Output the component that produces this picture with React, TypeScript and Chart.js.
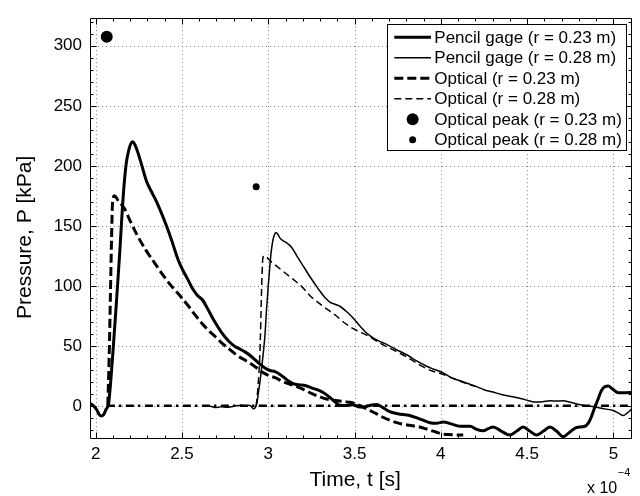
import React, { useEffect, useRef } from "react";
import { Chart, registerables } from "chart.js";

Chart.register(...registerables);

// Time values are in units of 1e-4 s, pressures in kPa.
const pencil023T = [1.967, 1.985, 2.005, 2.02, 2.032, 2.045, 2.06, 2.075, 2.088, 2.1, 2.12, 2.139, 2.154, 2.165, 2.178, 2.19, 2.202, 2.214, 2.226, 2.24, 2.266, 2.295, 2.325, 2.353, 2.38, 2.41, 2.44, 2.477, 2.505, 2.535, 2.56, 2.59, 2.62, 2.652, 2.69, 2.73, 2.77, 2.807, 2.84, 2.865, 2.895, 2.923, 2.95, 2.981, 3.01, 3.039, 3.07, 3.097, 3.125, 3.155, 3.185, 3.213, 3.25, 3.3, 3.33, 3.357, 3.39, 3.415, 3.45, 3.49, 3.53, 3.57, 3.6, 3.628, 3.66, 3.7, 3.75, 3.82, 3.88, 3.937, 3.975, 4.014, 4.06, 4.11, 4.17, 4.207, 4.245, 4.275, 4.303, 4.35, 4.4, 4.44, 4.477, 4.515, 4.555, 4.595, 4.632, 4.67, 4.709, 4.75, 4.787, 4.835, 4.864, 4.893, 4.915, 4.93, 4.95, 4.97, 4.995, 5.027, 5.07, 5.11];
const pencil023P = [2, 0.5, -3, -7, -8.5, -7.5, -3, 2, 22, 45, 86, 127, 163, 185, 203, 212, 218, 220, 218, 213, 201, 187, 178, 170, 161, 150, 138, 122, 113, 105, 98, 92, 88, 80, 70, 61, 54, 49.5, 47, 45, 42, 38.5, 35, 31.5, 29.5, 28.5, 26, 23, 20, 18, 17.5, 17, 15, 12.5, 10, 7, 3, 0.5, 0.3, 1, -1, -0.5, 0.8, 1.1, -1, -4.5, -6.5, -8, -11, -14, -14.5, -13.4, -15, -17, -17, -19.5, -20.8, -19, -17.5, -21, -24.3, -21, -17.5, -21, -24.3, -21, -17.5, -21, -25.7, -21.5, -18, -17, -12, -1, 7, 12.5, 16, 16.6, 14, 11, 11, 11.1];

const pencil028T = [2.643, 2.67, 2.7, 2.73, 2.76, 2.8, 2.84, 2.87, 2.89, 2.905, 2.913, 2.925, 2.935, 2.942, 2.952, 2.962, 2.972, 2.981, 2.99, 3.0, 3.008, 3.016, 3.027, 3.037, 3.045, 3.055, 3.07, 3.087, 3.11, 3.136, 3.17, 3.203, 3.24, 3.29, 3.33, 3.357, 3.39, 3.415, 3.45, 3.493, 3.531, 3.56, 3.589, 3.62, 3.65, 3.686, 3.74, 3.802, 3.86, 3.918, 3.96, 4.014, 4.06, 4.11, 4.169, 4.207, 4.25, 4.303, 4.35, 4.4, 4.45, 4.497, 4.53, 4.555, 4.59, 4.632, 4.67, 4.709, 4.75, 4.787, 4.84, 4.903, 4.95, 4.999, 5.03, 5.057, 5.08, 5.11];
const pencil028P = [0, -0.5, -1.3, -0.8, -1.2, -0.3, 0.6, 0.2, 0.5, -1, -2.5, -1.5, 3, 10, 20, 32, 45, 59, 80, 100, 114, 127, 138, 143, 144.5, 143, 139.5, 137.5, 135.5, 132, 124, 116.4, 108, 97.5, 90, 86.5, 84.5, 83, 79, 73, 66.5, 62, 58.5, 55.5, 53.5, 51.3, 47, 42.6, 37.5, 33, 30.5, 27.5, 23.5, 21, 18, 16, 13.5, 11.5, 9.5, 8, 6.5, 4.8, 3.5, 3.2, 3.5, 4.3, 4, 4.3, 3, 1.6, 0.2, -1.1, -2.5, -3.9, -6, -8, -6, -2];

const optical023T = [2.07, 2.078, 2.085, 2.092, 2.098, 2.11, 2.13, 2.168, 2.2, 2.245, 2.29, 2.342, 2.39, 2.438, 2.49, 2.535, 2.575, 2.62, 2.66, 2.691, 2.73, 2.768, 2.82, 2.884, 2.93, 2.962, 3.0, 3.039, 3.09, 3.155, 3.2, 3.26, 3.3, 3.338, 3.39, 3.44, 3.473, 3.51, 3.55, 3.59, 3.628, 3.665, 3.705, 3.745, 3.782, 3.82, 3.86, 3.9, 3.937, 3.975, 4.014, 4.06, 4.11, 4.13];
const optical023P = [0, 40, 90, 140, 170, 175, 171, 164, 154, 141, 130, 119, 109, 100, 91.5, 83.6, 76, 68, 62, 58, 52.5, 48, 42, 36.5, 32, 28.5, 25.5, 23.5, 20, 16.6, 14, 9.8, 7.5, 5.7, 4.5, 3.5, 3, 1.5, -1.1, -4, -6.6, -9.5, -12, -14, -15.3, -16.2, -17, -18.5, -20.2, -22, -23.5, -24, -24.3, -24.3];

const optical028T = [2.93, 2.94, 2.952, 2.962, 2.968, 2.975, 2.99, 3.01, 3.049, 3.1, 3.145, 3.2, 3.242, 3.29, 3.338, 3.39, 3.435, 3.49, 3.54, 3.589, 3.65, 3.724, 3.8, 3.879, 3.95, 4.0, 4.05, 4.11, 4.16, 4.2];
const optical028P = [0, 15, 45, 100, 122, 125, 124, 121, 116.4, 110.5, 105.4, 98.5, 91.8, 86, 80.8, 75.5, 69.9, 64.5, 61, 57.5, 52, 46.7, 41, 34, 29, 27, 24, 20.7, 18, 16.5];

const peak023T = [2.064];
const peak023P = [307.5];
const peak028T = [2.93];
const peak028P = [182.5];

const zeroT = [2.065, 5.11];
const zeroP = [0, 0];

const X_TICKS = [2, 2.5, 3, 3.5, 4, 4.5, 5];
const Y_TICKS = [0, 50, 100, 150, 200, 250, 300];
const X_MINOR_STEP = 0.1;
const Y_MINOR_STEP = 10;
const X_RANGE = [1.967, 5.108];
const Y_RANGE = [-27.6, 323];

const FONT = '"Liberation Sans", Arial, Helvetica, sans-serif';

const pts = (t: number[], p: number[]) => t.map((x, i) => ({ x, y: p[i] }));

// Dotted grid under the data, box with inward major/minor ticks on top of it.
const framePlugin = {
  id: "matlabFrame",
  beforeDatasetsDraw(chart: any) {
    const { ctx, chartArea: a, scales } = chart;
    const xs = scales.x;
    const ys = scales.y;
    ctx.save();
    ctx.strokeStyle = "#808080";
    ctx.lineWidth = 1;
    ctx.setLineDash([1, 3]);
    ctx.beginPath();
    for (const v of X_TICKS) {
      const px = Math.round(xs.getPixelForValue(v)) + 0.5;
      ctx.moveTo(px, a.top);
      ctx.lineTo(px, a.bottom);
    }
    for (const v of Y_TICKS) {
      const py = Math.round(ys.getPixelForValue(v)) + 0.5;
      ctx.moveTo(a.left, py);
      ctx.lineTo(a.right, py);
    }
    ctx.stroke();
    ctx.restore();
  },
  afterDatasetsDraw(chart: any) {
    const { ctx, chartArea: a, scales } = chart;
    const xs = scales.x;
    const ys = scales.y;
    const major = 6;
    const minor = 3;
    ctx.save();
    ctx.strokeStyle = "#000";
    ctx.lineWidth = 1;
    ctx.setLineDash([]);
    ctx.beginPath();
    const l = Math.round(a.left) + 0.5;
    const r = Math.round(a.right) - 0.5;
    const t = Math.round(a.top) + 0.5;
    const b = Math.round(a.bottom) - 0.5;
    ctx.rect(l, t, r - l, b - t);
    // x ticks (bottom and top)
    for (let v = 2; v <= X_RANGE[1] + 1e-9; v += X_MINOR_STEP) {
      const vv = Math.round(v * 10) / 10;
      if (vv < X_RANGE[0]) continue;
      const isMajor = X_TICKS.some((m) => Math.abs(m - vv) < 1e-6);
      const len = isMajor ? major : minor;
      const px = Math.round(xs.getPixelForValue(vv)) + 0.5;
      ctx.moveTo(px, b);
      ctx.lineTo(px, b - len);
      ctx.moveTo(px, t);
      ctx.lineTo(px, t + len);
    }
    // y ticks (left and right)
    for (let v = -20; v <= Y_RANGE[1]; v += Y_MINOR_STEP) {
      const isMajor = Y_TICKS.includes(v);
      const len = isMajor ? major : minor;
      const py = Math.round(ys.getPixelForValue(v)) + 0.5;
      ctx.moveTo(l, py);
      ctx.lineTo(l + len, py);
      ctx.moveTo(r, py);
      ctx.lineTo(r - len, py);
    }
    ctx.stroke();
    ctx.restore();
  },
  afterDraw(chart: any) {
    const { ctx, chartArea: a } = chart;
    // exponent of the time axis
    ctx.save();
    ctx.fillStyle = "#000";
    ctx.textBaseline = "alphabetic";
    ctx.textAlign = "left";
    ctx.font = `16px ${FONT}`;
    const base = "x 10";
    const bx = a.right - 45;
    ctx.fillText(base, bx, 493);
    const w = ctx.measureText(base).width;
    ctx.font = `11px ${FONT}`;
    ctx.fillText("\u22124", bx + w + 0.5, 476);
    ctx.restore();
  },
};

// Boxed legend in the top right corner of the plot area.
const legendPlugin = {
  id: "boxLegend",
  afterDraw(chart: any) {
    const { ctx, chartArea: a } = chart;
    const items = chart.data.datasets.filter((d: any) => d.label);
    ctx.save();
    ctx.font = `17px ${FONT}`;
    const textW = Math.max(...items.map((d: any) => ctx.measureText(d.label).width));
    const rowH = 20.5;
    const padTop = 13.3;
    const padBottom = 10.6;
    const sampleL = 7.3;
    const sampleW = 36.7;
    const gap = 3.3;
    const padR = 4.3;
    const w = Math.round(sampleL + sampleW + gap + textW + padR);
    const h = Math.round(padTop + rowH * (items.length - 1) + padBottom);
    const right = Math.round(a.right - 6);
    const left = right - w;
    const top = Math.round(a.top + 6);
    ctx.fillStyle = "#fff";
    ctx.fillRect(left, top, w, h);
    ctx.strokeStyle = "#000";
    ctx.lineWidth = 1;
    ctx.strokeRect(left + 0.5, top + 0.5, w, h);
    items.forEach((d: any, i: number) => {
      const cy = top + padTop + i * rowH;
      const x0 = left + sampleL;
      if (d.showLine) {
        ctx.setLineDash(d.borderDash || []);
        ctx.lineWidth = d.borderWidth;
        ctx.strokeStyle = d.borderColor;
        ctx.beginPath();
        ctx.moveTo(x0, cy);
        ctx.lineTo(x0 + sampleW, cy);
        ctx.stroke();
        ctx.setLineDash([]);
      } else {
        ctx.fillStyle = d.backgroundColor;
        ctx.beginPath();
        ctx.arc(x0 + sampleW / 2, cy, d.pointRadius, 0, Math.PI * 2);
        ctx.fill();
      }
      ctx.fillStyle = "#000";
      ctx.textBaseline = "middle";
      ctx.textAlign = "left";
      ctx.fillText(d.label, x0 + sampleW + gap, cy + 1);
    });
    ctx.restore();
  },
};

const lineStyle = {
  showLine: true,
  borderColor: "#000",
  backgroundColor: "#000",
  pointRadius: 0,
  cubicInterpolationMode: "monotone",
  fill: false,
};

export default function App() {
  const canvasRef = useRef<HTMLCanvasElement | null>(null);

  useEffect(() => {
    const canvas = canvasRef.current;
    if (!canvas) return;
    const chart = new Chart(canvas, {
      type: "scatter",
      data: {
        datasets: [
          { ...lineStyle, label: "Pencil gage (r = 0.23 m)", data: pts(pencil023T, pencil023P), borderWidth: 3 },
          { ...lineStyle, label: "Pencil gage (r = 0.28 m)", data: pts(pencil028T, pencil028P), borderWidth: 1.5 },
          { ...lineStyle, label: "Optical (r = 0.23 m)", data: pts(optical023T, optical023P), borderWidth: 3, borderDash: [9, 4] },
          { ...lineStyle, label: "Optical (r = 0.28 m)", data: pts(optical028T, optical028P), borderWidth: 1.5, borderDash: [7, 4] },
          { label: "Optical peak (r = 0.23 m)", data: pts(peak023T, peak023P), showLine: false, pointRadius: 6, backgroundColor: "#000", borderWidth: 0 },
          { label: "Optical peak (r = 0.28 m)", data: pts(peak028T, peak028P), showLine: false, pointRadius: 3.5, backgroundColor: "#000", borderWidth: 0 },
          { ...lineStyle, label: "", data: pts(zeroT, zeroP), borderWidth: 2.5, borderDash: [8, 4, 2.5, 4.5], cubicInterpolationMode: "default" },
        ],
      } as any,
      options: {
        animation: false,
        responsive: false,
        events: [],
        layout: { padding: { left: 0, top: 11, right: 8, bottom: 0 } },
        plugins: { legend: { display: false }, tooltip: { enabled: false } },
        scales: {
          x: {
            type: "linear",
            min: X_RANGE[0],
            max: X_RANGE[1],
            afterBuildTicks: (s: any) => {
              s.ticks = X_TICKS.map((v) => ({ value: v }));
            },
            afterFit: (s: any) => {
              s.height = 57;
            },
            grid: { display: false, drawTicks: false },
            border: { display: false },
            ticks: {
              color: "#000",
              font: { family: FONT, size: 17 },
              padding: 5,
              maxRotation: 0,
              autoSkip: false,
              callback: (v: any) => String(v),
            },
            title: {
              display: true,
              text: "Time, t [s]  ",
              color: "#000",
              font: { family: FONT, size: 21 },
              padding: { top: 0, bottom: 3 },
            },
          },
          y: {
            type: "linear",
            min: Y_RANGE[0],
            max: Y_RANGE[1],
            afterBuildTicks: (s: any) => {
              s.ticks = Y_TICKS.map((v) => ({ value: v }));
            },
            afterFit: (s: any) => {
              s.width = 90;
            },
            grid: { display: false, drawTicks: false },
            border: { display: false },
            ticks: {
              color: "#000",
              font: { family: FONT, size: 17 },
              padding: 8,
              autoSkip: false,
              callback: (v: any) => String(v),
            },
            title: {
              display: true,
              text: "Pressure, P [kPa]   ",
              color: "#000",
              font: { family: FONT, size: 21 },
              padding: { top: 13, bottom: 0 },
            },
          },
        },
      } as any,
      plugins: [framePlugin, legendPlugin],
    });
    return () => chart.destroy();
  }, []);

  return (
    <div style={{ position: "fixed", left: 0, top: 0, width: 640, height: 496, background: "#fff" }}>
      <canvas ref={canvasRef} width={640} height={496} />
    </div>
  );
}
